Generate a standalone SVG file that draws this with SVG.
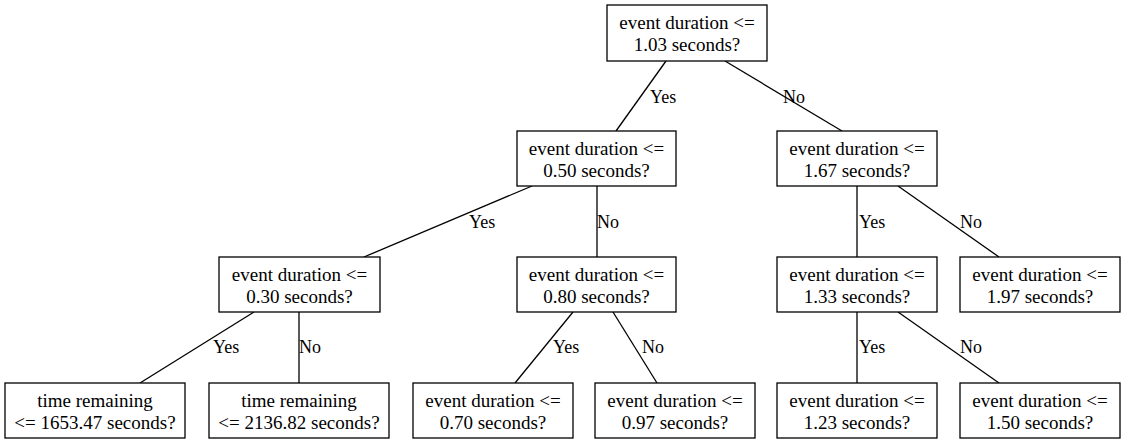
<svg xmlns="http://www.w3.org/2000/svg" width="1125" height="444" viewBox="0 0 1125 444">
<style>
.box{fill:#fff;stroke:#000;stroke-width:1.3}
.t{font-family:"Liberation Serif","Times New Roman",serif;font-size:19px;fill:#000;text-anchor:middle}
.l{font-family:"Liberation Serif","Times New Roman",serif;font-size:18px;fill:#000}
.e{stroke:#000;stroke-width:1.3;fill:none}
</style>
<rect width="1125" height="444" fill="#fff"/>
<g id="connectors">
<line class="e" x1="666" y1="61" x2="616" y2="131"/>
<line class="e" x1="725" y1="61" x2="842" y2="131"/>
<line class="e" x1="532" y1="186" x2="364" y2="257"/>
<line class="e" x1="597" y1="186" x2="597" y2="257"/>
<line class="e" x1="857" y1="186" x2="857" y2="257"/>
<line class="e" x1="898" y1="186" x2="999" y2="257"/>
<line class="e" x1="254" y1="312" x2="140" y2="383"/>
<line class="e" x1="299" y1="312" x2="299" y2="383"/>
<line class="e" x1="573" y1="312" x2="515" y2="383"/>
<line class="e" x1="613" y1="312" x2="657" y2="383"/>
<line class="e" x1="857" y1="312" x2="857" y2="383"/>
<line class="e" x1="898" y1="312" x2="999" y2="383"/>
<text class="l" x="650" y="103">Yes</text>
<text class="l" x="783" y="103">No</text>
<text class="l" x="469" y="228">Yes</text>
<text class="l" x="597" y="228">No</text>
<text class="l" x="859" y="228">Yes</text>
<text class="l" x="960" y="228">No</text>
<text class="l" x="213" y="353">Yes</text>
<text class="l" x="299" y="353">No</text>
<text class="l" x="553" y="353">Yes</text>
<text class="l" x="642" y="353">No</text>
<text class="l" x="859" y="353">Yes</text>
<text class="l" x="960" y="353">No</text>
</g>
<g id="n_root"><rect class="box" x="607" y="5" width="160" height="56"/><text class="t" x="687" y="29">event duration &lt;=</text><text class="t" x="687" y="51">1.03 seconds?</text></g>
<g id="n_050"><rect class="box" x="517" y="131" width="159" height="55"/><text class="t" x="596.5" y="155">event duration &lt;=</text><text class="t" x="596.5" y="177">0.50 seconds?</text></g>
<g id="n_167"><rect class="box" x="777" y="131" width="160" height="55"/><text class="t" x="857" y="155">event duration &lt;=</text><text class="t" x="857" y="177">1.67 seconds?</text></g>
<g id="n_030"><rect class="box" x="219" y="257" width="161" height="55"/><text class="t" x="299.5" y="281">event duration &lt;=</text><text class="t" x="299.5" y="303">0.30 seconds?</text></g>
<g id="n_080"><rect class="box" x="517" y="257" width="159" height="55"/><text class="t" x="596.5" y="281">event duration &lt;=</text><text class="t" x="596.5" y="303">0.80 seconds?</text></g>
<g id="n_133"><rect class="box" x="777" y="257" width="160" height="55"/><text class="t" x="857" y="281">event duration &lt;=</text><text class="t" x="857" y="303">1.33 seconds?</text></g>
<g id="n_197"><rect class="box" x="960" y="257" width="160" height="55"/><text class="t" x="1040" y="281">event duration &lt;=</text><text class="t" x="1040" y="303">1.97 seconds?</text></g>
<g id="n_1653"><rect class="box" x="5" y="383" width="180" height="55"/><text class="t" x="95" y="407">time remaining</text><text class="t" x="95" y="429">&lt;= 1653.47 seconds?</text></g>
<g id="n_2136"><rect class="box" x="209" y="383" width="180" height="55"/><text class="t" x="299" y="407">time remaining</text><text class="t" x="299" y="429">&lt;= 2136.82 seconds?</text></g>
<g id="n_070"><rect class="box" x="413" y="383" width="160" height="55"/><text class="t" x="493" y="407">event duration &lt;=</text><text class="t" x="493" y="429">0.70 seconds?</text></g>
<g id="n_097"><rect class="box" x="595" y="383" width="160" height="55"/><text class="t" x="675" y="407">event duration &lt;=</text><text class="t" x="675" y="429">0.97 seconds?</text></g>
<g id="n_123"><rect class="box" x="777" y="383" width="160" height="55"/><text class="t" x="857" y="407">event duration &lt;=</text><text class="t" x="857" y="429">1.23 seconds?</text></g>
<g id="n_150"><rect class="box" x="960" y="383" width="160" height="55"/><text class="t" x="1040" y="407">event duration &lt;=</text><text class="t" x="1040" y="429">1.50 seconds?</text></g>
</svg>
